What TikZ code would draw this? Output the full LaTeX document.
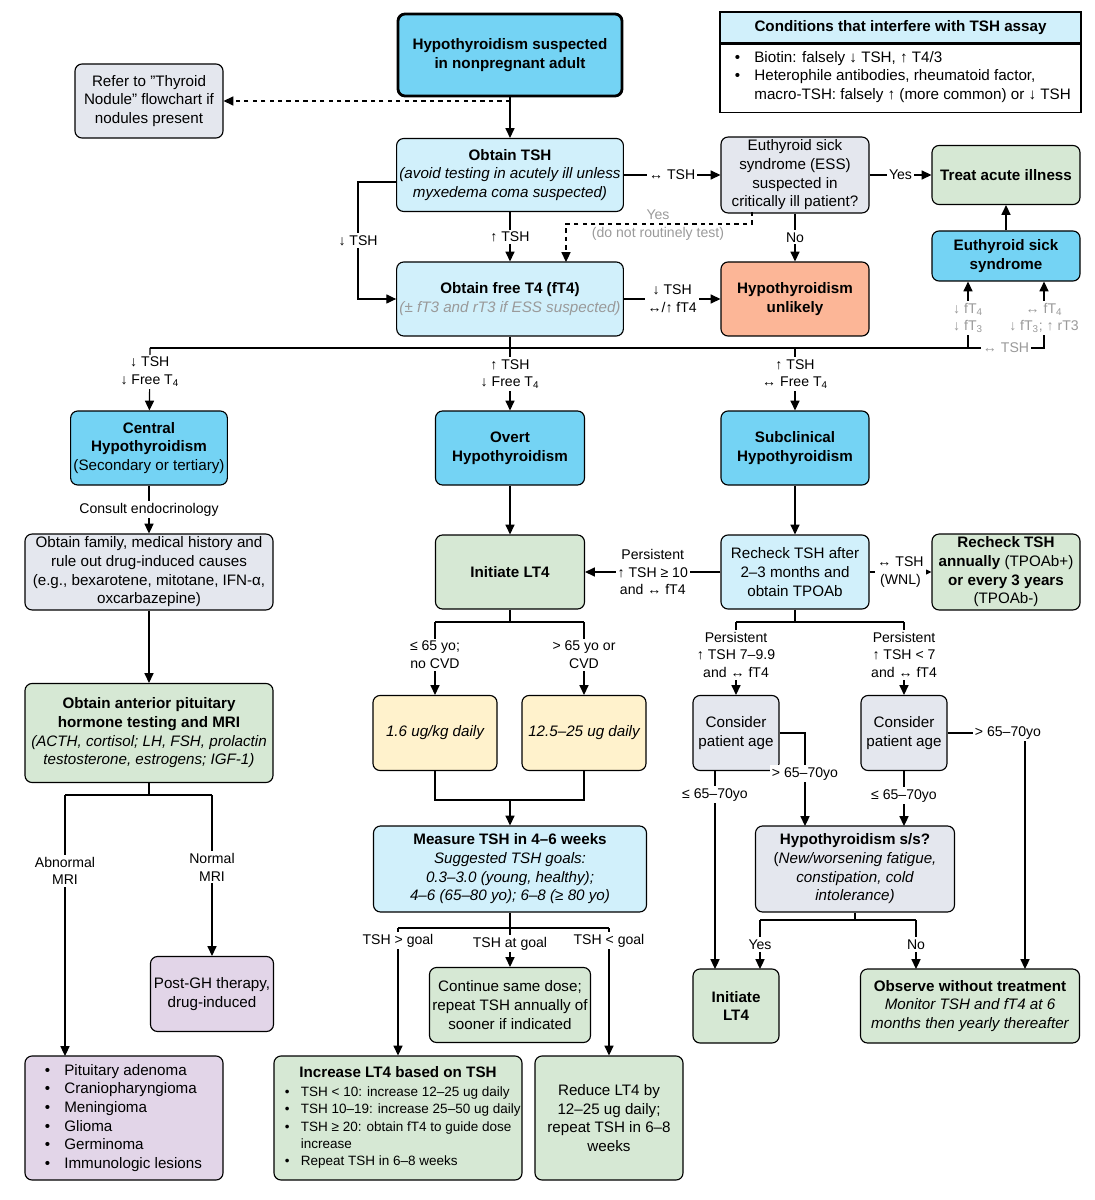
\documentclass[tikz,border=0pt]{standalone}
\usepackage{fontspec}
\setmainfont{Liberation Sans}
\usetikzlibrary{arrows.meta}
\definecolor{bblue}{HTML}{74D3F4}
\definecolor{lblue}{HTML}{D1F0FB}
\definecolor{lgray}{HTML}{E4E7EE}
\definecolor{lgreen}{HTML}{D6E8D4}
\definecolor{lyel}{HTML}{FFF2CC}
\definecolor{salmon}{HTML}{FCB697}
\definecolor{lpurp}{HTML}{E2D5E8}
\definecolor{gtxt}{HTML}{9A9A9A}
\tikzset{
  box/.style 2 args={draw, line width=0.8pt, rounded corners=5pt, align=center, inner sep=2pt,
    minimum width=#1*0.025cm, minimum height=#2*0.025cm},
  lbl/.style={fill=white, align=center, inner sep=1.5pt, font=\fontsize{10}{12.5}\selectfont},
  glbl/.style={lbl, text=gtxt},
  arr/.style={-{Triangle[length=7pt,width=6.5pt]}, line width=0.8pt},
  ln/.style={line width=0.8pt},
}
\begin{document}
\begin{tikzpicture}[x=0.025cm, y=-0.025cm, font=\fontsize{10.8}{13.3}\selectfont]
\useasboundingbox (0,0) rectangle (1095,1200);
% top row
\node[box={224}{82}, fill=bblue, line width=2pt] (start) at (510,55) {\bfseries Hypothyroidism suspected\\\bfseries in nonpregnant adult};
\node[box={148}{74}, fill=lgray] (nod) at (149,101) {Refer to "Thyroid\\Nodule" flowchart if\\nodules present};
\node[draw, ln, fill=lblue, minimum width=361*0.025cm, minimum height=31*0.025cm] (condh) at (900.5,27.5) {\bfseries Conditions that interfere with TSH assay};
\node[draw, ln, fill=white, minimum width=361*0.025cm, minimum height=68*0.025cm, anchor=north] (condb) at (condh.south) {};
\node[align=left, anchor=west] (condt) at (730,77) {\textbullet\hspace{10pt}Biotin: falsely ↓ TSH, ↑ T4/3\\\textbullet\hspace{10pt}Heterophile antibodies, rheumatoid factor,\\\hphantom{\textbullet}\hspace{10pt}macro-TSH: falsely ↑ (more common) or ↓ TSH};
\node[box={224}{73}, fill=lblue] (tsh) at (510,175) {\bfseries Obtain TSH\\\itshape (avoid testing in acutely ill unless\\\itshape myxedema coma suspected)};
\node[box={148}{73}, fill=lgray] (essq) at (795,175) {Euthyroid sick\\syndrome (ESS)\\suspected in\\critically ill patient?};
\node[box={148}{59}, fill=lgreen] (treat) at (1006,175) {\bfseries Treat acute illness};
\node[box={148}{50}, fill=bblue] (esyn) at (1006,256) {\bfseries Euthyroid sick\\\bfseries syndrome};
\node[box={224}{74}, fill=lblue] (ft4) at (510,299) {\bfseries Obtain free T4 (fT4)\\\color{gtxt}\itshape (± fT3 and rT3 if ESS suspected)};
\node[box={148}{74}, fill=salmon] (unl) at (795,299) {\bfseries Hypothyroidism\\\bfseries unlikely};
% diagnoses
\node[box={148}{74}, fill=bblue] (central) at (149,448) {\bfseries Central\\\bfseries Hypothyroidism\\(Secondary or tertiary)};
\node[box={149}{74}, fill=bblue] (overt) at (510,448) {\bfseries Overt\\\bfseries Hypothyroidism};
\node[box={148}{74}, fill=bblue] (subc) at (795,448) {\bfseries Subclinical\\\bfseries Hypothyroidism};
\node[box={248}{74}, fill=lgray] (hist) at (149,572) {Obtain family, medical history and\\rule out drug-induced causes\\(e.g., bexarotene, mitotane, IFN-α,\\oxcarbazepine)};
\node[box={149}{74}, fill=lgreen] (lt4) at (510,572) {\bfseries Initiate LT4};
\node[box={148}{74}, fill=lblue] (rech) at (795,572) {Recheck TSH after\\2–3 months and\\obtain TPOAb};
\node[box={148}{74}, fill=lgreen] (annual) at (1006,572) {\bfseries Recheck TSH\\\bfseries annually \mdseries(TPOAb+)\\\bfseries or every 3 years\\(TPOAb-)};
\node[box={248}{99}, fill=lgreen] (pit) at (149,733) {\bfseries Obtain anterior pituitary\\\bfseries hormone testing and MRI\\\itshape (ACTH, cortisol; LH, FSH, prolactin\\\itshape testosterone, estrogens; IGF-1)};
\node[box={124}{75}, fill=lyel] (dlow) at (435,733) {\itshape 1.6 ug/kg daily};
\node[box={124}{75}, fill=lyel] (dhigh) at (584,733) {\itshape 12.5–25 ug daily};
\node[box={86}{75}, fill=lgray] (ageL) at (736,733) {Consider\\patient age};
\node[box={86}{75}, fill=lgray] (ageR) at (904,733) {Consider\\patient age};
\node[box={273}{86}, fill=lblue] (meas) at (510,869) {\bfseries Measure TSH in 4–6 weeks\\\itshape Suggested TSH goals:\\\itshape 0.3–3.0 (young, healthy);\\\itshape 4–6 (65–80 yo); 6–8 (≥ 80 yo)};
\node[box={199}{86}, fill=lgray] (ss) at (855,869) {\bfseries Hypothyroidism s/s?\\(\itshape New/worsening fatigue,\\\itshape constipation, cold\\\itshape intolerance)};
% bottom
\node[box={123}{75}, fill=lpurp] (postgh) at (212,994) {Post-GH therapy,\\drug-induced};
\node[box={198}{124}, fill=lpurp] (tumors) at (124,1118) {};
\node[align=left, anchor=west] (tumt) at (40,1118) {\textbullet\hspace{10pt}Pituitary adenoma\\\textbullet\hspace{10pt}Craniopharyngioma\\\textbullet\hspace{10pt}Meningioma\\\textbullet\hspace{10pt}Glioma\\\textbullet\hspace{10pt}Germinoma\\\textbullet\hspace{10pt}Immunologic lesions};
\node[box={161}{75}, fill=lgreen] (cont) at (510,1005) {Continue same dose;\\repeat TSH annually of\\sooner if indicated};
\node[box={248}{124}, fill=lgreen] (incr) at (398,1118) {};
\node (incrt) at (398,1072) {\bfseries Increase LT4 based on TSH};
\node[align=left, anchor=north west, font=\fontsize{9.6}{12.2}\selectfont] (incrl) at (280,1082) {\textbullet\hspace{8pt}TSH < 10: increase 12–25 ug daily\\\textbullet\hspace{8pt}TSH 10–19: increase 25–50 ug daily\\\textbullet\hspace{8pt}TSH ≥ 20: obtain fT4 to guide dose\\\hphantom{\textbullet}\hspace{8pt}increase\\\textbullet\hspace{8pt}Repeat TSH in 6–8 weeks};
\node[box={148}{124}, fill=lgreen] (red) at (609,1118) {Reduce LT4 by\\12–25 ug daily;\\repeat TSH in 6–8\\weeks};
\node[box={86}{74}, fill=lgreen] (initR) at (736,1006) {\bfseries Initiate\\\bfseries LT4};
\node[box={219}{74}, fill=lgreen] (obs) at (970,1006) {\bfseries Observe without treatment\\\itshape Monitor TSH and fT4 at 6\\\itshape months then yearly thereafter};
% connectors, top
\draw[arr] (start) -- (tsh);
\draw[arr, dashed] (510,101) -- (nod);
\draw[arr] (tsh) -- node[lbl]{↔ TSH} (essq);
\draw[arr] (essq) -- node[lbl]{Yes} (treat);
\draw[arr] (esyn) -- (treat);
\draw[arr] (tsh) -- node[lbl]{↑ TSH} (ft4);
\draw[arr] (tsh.west|-{(0,182)}) -- ++(-38,0) |- node[lbl, pos=.25]{↓ TSH} (ft4.west);
\draw[arr, dashed] (752,212) |- (566,224) -- (566,262);
\node[glbl, fill=none] (yes2) at (658,225) {Yes\\(do not routinely test)};
\draw[arr] (essq) -- node[lbl]{No} (unl);
\draw[arr] (ft4) -- node[lbl]{↓ TSH\\↔/↑ fT4} (unl);
% branch bus
\coordinate (busL) at (150,348);
\coordinate (busR) at (968,348);
\draw[ln] (ft4.south) -- (ft4.south|-busL);
\draw[ln] (busL) -- (busR);
\draw[arr] (busL) -- node[lbl, pos=.38]{↓ TSH\\↓ Free T\textsubscript{4}} (central);
\draw[arr] (ft4.south|-busL) -- node[lbl, pos=.42]{↑ TSH\\↓ Free T\textsubscript{4}} (overt);
\draw[arr] (subc.north|-busL) -- node[lbl, pos=.42]{↑ TSH\\↔ Free T\textsubscript{4}} (subc);
\node[glbl] (fa) at (968,318) {↓ fT\textsubscript{4}\\↓ fT\textsubscript{3}};
\node[glbl] (fb) at (1044,318) {↔ fT\textsubscript{4}\\↓ fT\textsubscript{3}; ↑ rT3};
\draw[arr] (fa.north) -- (fa.north|-esyn.south);
\draw[arr] (fb.north) -- (fb.north|-esyn.south);
\draw[ln] (fa.south) -- (busR) -- node[glbl]{↔ TSH} (fb.south|-busR) -- (fb.south);
% middle
\draw[arr] (central) -- node[lbl]{Consult endocrinology} (hist);
\draw[arr] (hist) -- (pit);
\draw[arr] (overt) -- (lt4);
\draw[arr] (subc) -- (rech);
\draw[arr] (rech) -- node[lbl]{Persistent\\↑ TSH ≥ 10\\and ↔ fT4} (lt4);
\draw[arr] (rech) -- node[lbl]{↔ TSH\\(WNL)} (annual);
\draw[ln] (lt4.south) -- (510,622) coordinate (lsplit);
\draw[arr] (dlow.north|-lsplit) -- node[lbl, pos=.45]{≤ 65 yo;\\no CVD} (dlow.north);
\draw[arr] (dhigh.north|-lsplit) -- node[lbl, pos=.45]{> 65 yo or\\CVD} (dhigh.north);
\draw[ln] (dlow.north|-lsplit) -- (dhigh.north|-lsplit);
\draw[ln] (dlow.south) -- (435,800) -- (584,800) -- (dhigh.south);
\draw[arr] (510,800) -- (meas);
\draw[ln] (rech.south) -- (795,622) coordinate (rsplit);
\draw[ln] (ageL.north|-rsplit) -- (ageR.north|-rsplit);
\draw[arr] (ageL.north|-rsplit) -- node[lbl, pos=.45]{Persistent\\↑ TSH 7–9.9\\and ↔ fT4} (ageL.north);
\draw[arr] (ageR.north|-rsplit) -- node[lbl, pos=.45]{Persistent\\↑ TSH < 7\\and ↔ fT4} (ageR.north);
\draw[arr] (715,771) -- node[lbl, pos=.12]{≤ 65–70yo} (715,969);
\draw[arr] (ageL.east) -| node[lbl, pos=.72]{> 65–70yo} (805,826);
\draw[arr] (ageR) -- node[lbl, pos=.45]{≤ 65–70yo} (904,826);
\draw[arr] (ageR.east) -| node[lbl, pos=.39]{> 65–70yo} (1025,969);
\draw[ln] (ss.south) -- (855,920) coordinate (ssplit);
\draw[ln] (760,920) -- (916,920);
\draw[arr] (760,920) -- node[lbl]{Yes} (760,969);
\draw[arr] (916,920) -- node[lbl]{No} (916,969);
% left column
\draw[ln] (pit.south) -- (149,795);
\draw[ln] (65,795) -- (212,795);
\draw[arr] (65,795) -- node[lbl, pos=.29]{Abnormal\\MRI} (65,1056);
\draw[arr] (212,795) -- node[lbl, pos=.45]{Normal\\MRI} (postgh);
% measure outcomes
\draw[ln] (meas.south) -- (510,928);
\draw[ln] (398,928) -- (609,928);
\draw[arr] (398,928) -- node[lbl, pos=.1]{TSH > goal} (incr.north-|incrt);
\draw[arr] (510,928) -- node[lbl, pos=.4]{TSH at goal} (cont);
\draw[arr] (609,928) -- node[lbl, pos=.1]{TSH < goal} (red);
\end{tikzpicture}
\end{document}
